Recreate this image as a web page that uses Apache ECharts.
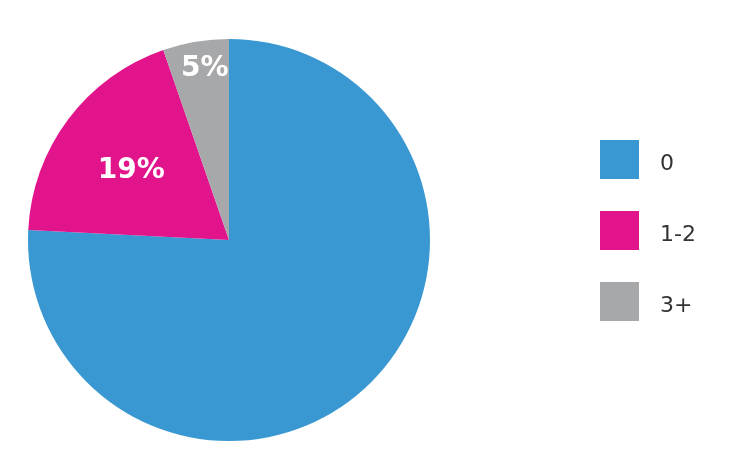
<!DOCTYPE html>
<html>
<head>
<meta charset="utf-8">
<script src="https://cdn.jsdelivr.net/npm/echarts@6/dist/echarts.min.js"></script>
<style>
html,body{margin:0;padding:0;background:#fff;}
#chart{width:734px;height:475px;}
</style>
</head>
<body>
<div id="chart"></div>
<script>
const categories = ['0', '1-2', '3+'];
const values = [75.8, 18.9, 5.3];
const labels = ['', '19%', '5%'];
const colors = ['#3998d2', '#e1148b', '#a7a8aa'];
const labelShift = [[0, 0], [-15, -7], [-7, -69]];

const chart = echarts.init(document.getElementById('chart'), null, {renderer: 'canvas'});
chart.setOption({
  backgroundColor: '#ffffff',
  animation: false,
  legend: {
    orient: 'vertical',
    left: 595,
    top: 135,
    itemWidth: 39,
    itemHeight: 39,
    itemGap: 32,
    icon: 'rect',
    data: categories,
    formatter: name => '{t|' + name + '}',
    textStyle: {
      fontFamily: 'DejaVu Sans',
      fontSize: 22,
      color: '#333333',
      rich: {
        t: {
          fontFamily: 'DejaVu Sans',
          fontSize: 22,
          color: '#333333',
          padding: [10, 0, 0, 16]
        }
      }
    }
  },
  series: [{
    type: 'pie',
    center: [229, 240],
    radius: 201,
    startAngle: 90,
    clockwise: true,
    silent: true,
    emphasis: {disabled: true},
    labelLine: {show: false},
    label: {
      show: true,
      position: 'inside',
      color: '#ffffff',
      fontFamily: 'DejaVu Sans',
      fontWeight: 'bold',
      fontSize: 28,
      formatter: p => labels[p.dataIndex]
    },
    labelLayout: p => ({dx: labelShift[p.dataIndex][0], dy: labelShift[p.dataIndex][1]}),
    data: categories.map((c, i) => ({
      name: c,
      value: values[i],
      itemStyle: {color: colors[i]},
      label: {show: labels[i] !== ''}
    }))
  }]
});
</script>
</body>
</html>
